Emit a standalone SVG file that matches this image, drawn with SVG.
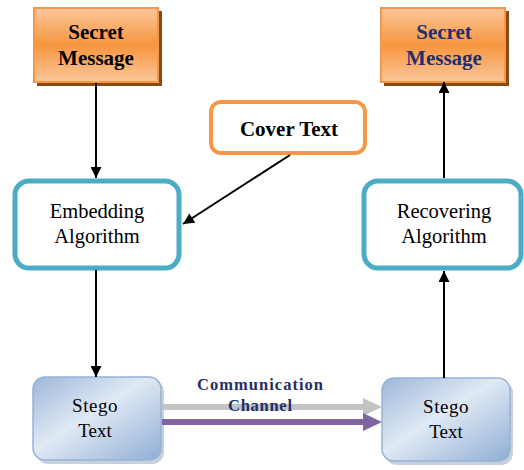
<svg xmlns="http://www.w3.org/2000/svg" width="524" height="470" viewBox="0 0 524 470">
<defs>
<linearGradient id="og" x1="0" y1="0" x2="0" y2="1">
<stop offset="0" stop-color="#FBC79C"/>
<stop offset="0.5" stop-color="#F7963F"/>
<stop offset="1" stop-color="#FBC69A"/>
</linearGradient>
<linearGradient id="bg" x1="0" y1="0" x2="1" y2="1">
<stop offset="0" stop-color="#9DB7DA"/>
<stop offset="0.45" stop-color="#E0E9F4"/>
<stop offset="1" stop-color="#8FAED6"/>
</linearGradient>
<marker id="ah" viewBox="0 0 10 10" refX="10" refY="5" markerWidth="6" markerHeight="5.5" orient="auto" markerUnits="strokeWidth">
<path d="M0,0 L10,5 L0,10 z" fill="#000"/>
</marker>
</defs>
<style>
.sec rect.f{fill:url(#og);stroke:#F79646;stroke-width:2}
.sh{fill:#8C4A12}
text{font-family:"Liberation Serif","Times New Roman",Times,serif;text-anchor:middle}
.b{font-weight:bold}
.alg{fill:#fff;stroke:#4BACC6;stroke-width:5}
.stg{fill:url(#bg);stroke:#95B3D7;stroke-width:1.5}
.ln{stroke:#000;stroke-width:2;fill:none;marker-end:url(#ah)}
</style>
<g id="secret-left" class="sec">
<rect class="sh" x="37" y="11" width="125" height="75"/>
<rect class="f" x="34" y="8" width="124" height="74"/>
<text class="b" font-family="Liberation Serif, serif" x="96" y="39" font-size="21" fill="#000">Secret</text>
<text class="b" font-family="Liberation Serif, serif" x="96" y="65" font-size="21" fill="#000">Message</text>
</g>
<g id="secret-right" class="sec">
<rect class="sh" x="384" y="11" width="125" height="75"/>
<rect class="f" x="381" y="8" width="124" height="74"/>
<text class="b" font-family="Liberation Serif, serif" x="444" y="39" font-size="21" fill="#1F2F6B">Secret</text>
<text class="b" font-family="Liberation Serif, serif" x="444" y="65" font-size="21" fill="#1F2F6B">Message</text>
</g>
<g id="cover">
<rect x="211" y="102" width="154" height="51" rx="10" fill="#fff" stroke="#F79646" stroke-width="4"/>
<text class="b" font-family="Liberation Serif, serif" x="289" y="136" font-size="21">Cover Text</text>
</g>
<g id="embedding">
<rect class="alg" x="15" y="181" width="164" height="87" rx="14"/>
<text font-family="Liberation Serif, serif" x="97" y="218" font-size="20.5">Embedding</text>
<text font-family="Liberation Serif, serif" x="97" y="243" font-size="20.5">Algorithm</text>
</g>
<g id="recovering">
<rect class="alg" x="364" y="181" width="157" height="87" rx="14"/>
<text font-family="Liberation Serif, serif" x="444" y="218" font-size="20.5">Recovering</text>
<text font-family="Liberation Serif, serif" x="444" y="243" font-size="20.5">Algorithm</text>
</g>
<g id="stego-left">
<rect x="36" y="380" width="128" height="84" rx="12" fill="#8EA3B8" opacity="0.5"/>
<rect class="stg" x="33" y="377" width="128" height="83" rx="12"/>
<text font-family="Liberation Serif, serif" x="95" y="412" font-size="19" letter-spacing="0.5">Stego</text>
<text font-family="Liberation Serif, serif" x="95" y="437" font-size="19">Text</text>
</g>
<g id="stego-right">
<rect x="385" y="381" width="128" height="84" rx="12" fill="#8EA3B8" opacity="0.5"/>
<rect class="stg" x="382" y="378" width="128" height="83" rx="12"/>
<text font-family="Liberation Serif, serif" x="446" y="413" font-size="19" letter-spacing="0.5">Stego</text>
<text font-family="Liberation Serif, serif" x="446" y="438" font-size="19">Text</text>
</g>
<g id="connectors">
<line class="ln" x1="96" y1="83" x2="96" y2="178"/>
<line class="ln" x1="290" y1="155" x2="183" y2="224"/>
<line class="ln" x1="96" y1="270" x2="96" y2="377"/>
<line class="ln" x1="444" y1="378" x2="444" y2="271"/>
<line class="ln" x1="444" y1="178" x2="444" y2="82"/>
<path d="M162,404 L363,404 L363,398 L382,407 L363,416 L363,410 L162,410 z" fill="#C3C3C3"/>
<path d="M162,419 L363,419 L363,413 L382,422 L363,431 L363,425 L162,425 z" fill="#8064A2"/>
<text class="b" font-family="Liberation Serif, serif" x="260" y="390" font-size="16.5" fill="#1F2F6B" textLength="126" lengthAdjust="spacing">Communication</text>
<text class="b" font-family="Liberation Serif, serif" x="260" y="411" font-size="16.5" fill="#1F2F6B" textLength="64" lengthAdjust="spacing">Channel</text>
</g>
</svg>
